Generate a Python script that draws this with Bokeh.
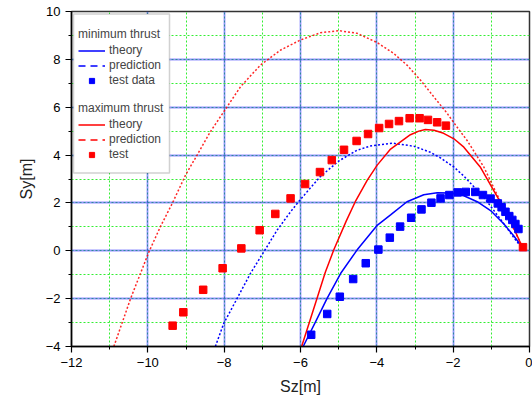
from bokeh.plotting import figure
from bokeh.models import Legend, LegendItem, SingleIntervalTicker, BoxAnnotation, Range1d
from bokeh.embed import file_html
from bokeh.resources import INLINE

# ---- data ----
blue_theory_x = [-5.93, -5.60, -5.30, -4.95, -4.52, -4.00, -3.64, -3.21, -2.77, -2.42, -2.07, -1.72, -1.37, -1.02, -0.67, -0.41, -0.22]
blue_theory_y = [-4.00, -2.95, -1.98, -0.95, 0.03, 1.05, 1.50, 2.05, 2.34, 2.43, 2.42, 2.30, 2.05, 1.68, 1.12, 0.62, 0.22]

blue_pred_x = [-8.23, -8.01, -7.66, -7.31, -6.96, -6.61, -6.26, -6.00, -5.48, -5.00, -4.52, -4.17, -3.60, -3.03,
               -2.60, -2.33, -1.98, -1.72, -1.20, -0.76, -0.41, -0.25]
blue_pred_y = [-4.00, -3.03, -1.99, -0.94, -0.04, 0.87, 1.63, 2.15, 3.10, 3.75, 4.20, 4.38, 4.50, 4.37,
               4.12, 3.88, 3.50, 3.12, 2.24, 1.32, 0.55, 0.22]

blue_test_x = [-5.72, -5.30, -4.97, -4.62, -4.29, -3.96, -3.66, -3.39, -3.10, -2.83, -2.57, -2.33, -2.10, -1.88,
               -1.67, -1.42, -1.22, -1.02, -0.83, -0.73, -0.63, -0.53, -0.45, -0.37, -0.29]
blue_test_y = [-3.51, -2.64, -1.92, -1.18, -0.52, 0.05, 0.55, 1.01, 1.38, 1.73, 2.01, 2.19, 2.33, 2.44,
               2.46, 2.46, 2.33, 2.18, 1.98, 1.82, 1.63, 1.45, 1.29, 1.12, 0.91]

red_theory_x = [-5.97, -5.75, -5.56, -5.35, -5.13, -4.80, -4.55, -4.25, -3.99, -3.64, -3.38, -3.12, -2.90, -2.73,
                -2.50, -2.25, -1.98, -1.72, -1.28, -0.94, -0.58, -0.19]
red_theory_y = [-4.00, -2.90, -1.95, -0.90, 0.03, 1.25, 2.10, 2.95, 3.58, 4.25, 4.55, 4.85, 5.00, 5.07,
                5.04, 4.91, 4.68, 4.33, 3.48, 2.52, 1.52, 0.17]

red_pred_x = [-10.89, -10.45, -9.97, -9.67, -9.36, -9.01, -8.71, -8.36, -8.01, -7.57, -7.05, -6.52, -6.00, -5.48,
              -5.00, -4.52, -3.99, -3.56, -3.21, -2.86, -2.51, -2.16, -1.94, -1.63, -1.20, -0.85, -0.50, -0.19]
red_pred_y = [-4.00, -1.99, -0.04, 1.01, 1.98, 3.17, 4.00, 4.98, 5.81, 6.86, 7.76, 8.39, 8.81, 9.11,
              9.20, 9.09, 8.70, 8.25, 7.76, 7.14, 6.44, 5.75, 5.26, 4.60, 3.51, 2.35, 1.20, 0.17]

red_test_x = [-9.35, -9.07, -8.55, -8.04, -7.55, -7.07, -6.66, -6.26, -5.88, -5.49, -5.18, -4.86, -4.53, -4.23,
              -3.94, -3.68, -3.42, -3.14, -2.88, -2.66, -2.42, -2.19, -0.17]
red_test_y = [-3.13, -2.57, -1.63, -0.73, 0.10, 0.86, 1.54, 2.19, 2.79, 3.29, 3.79, 4.22, 4.59, 4.88,
              5.13, 5.30, 5.42, 5.54, 5.54, 5.47, 5.37, 5.23, 0.15]

x_label = "Sz[m]"
y_label = "Sy[m]"
group_titles = ["minimum thrust", "maximum thrust"]
blue_labels = ["theory", "prediction", "test data"]
red_labels = ["theory", "prediction", "test"]

BLUE = "#0000ff"
RED = "#ff0000"
FONT = "Liberation Sans"

p = figure(width=532, height=404, x_range=Range1d(-12, 0), y_range=Range1d(-4, 10),
           output_backend="svg", toolbar_location=None,
           min_border_left=71, min_border_right=3, min_border_top=11, min_border_bottom=58)
p.background_fill_color = "white"
p.border_fill_color = "white"
p.outline_line_color = "#333333"
p.outline_line_width = 1.5

ticker = SingleIntervalTicker(interval=2, num_minor_ticks=2)
for ax in (p.xaxis[0], p.yaxis[0]):
    ax.ticker = ticker
    ax.axis_line_color = "black"
    ax.axis_line_width = 1.5
    ax.major_tick_line_color = "black"
    ax.major_tick_line_width = 1.2
    ax.minor_tick_line_color = "black"
    ax.major_tick_out = 6
    ax.major_tick_in = 0
    ax.minor_tick_out = 3
    ax.minor_tick_in = 0
    ax.major_label_text_font = FONT
    ax.major_label_text_font_size = "13px"
    ax.major_label_text_color = "black"
    ax.major_label_standoff = 5
    ax.axis_label_text_font = FONT
    ax.axis_label_text_font_size = "16px"
    ax.axis_label_text_font_style = "normal"
    ax.axis_label_text_color = "#222222"
    ax.axis_label_standoff = 8
p.xaxis.axis_label = x_label
p.yaxis.axis_label = y_label

for g in (p.xgrid[0], p.ygrid[0]):
    g.ticker = ticker
    g.grid_line_color = "#2a2aff"
    g.grid_line_alpha = 0.5
    g.grid_line_width = 1.8
    g.minor_grid_line_color = "#33ee33"
    g.minor_grid_line_dash = "2 2"
    g.minor_grid_line_width = 1

r_bp = p.line(blue_pred_x, blue_pred_y, color=BLUE, line_width=1.5, line_dash="2 2")
r_rp = p.line(red_pred_x, red_pred_y, color=RED, line_width=1.5, line_dash="2 2", line_alpha=0.85)
r_bt = p.line(blue_theory_x, blue_theory_y, color=BLUE, line_width=1.5)
r_rt = p.line(red_theory_x, red_theory_y, color=RED, line_width=1.5)
r_bs = p.scatter(blue_test_x, blue_test_y, marker="square", size=7.5, color=BLUE)
r_rs = p.scatter(red_test_x, red_test_y, marker="square", size=7.5, color=RED)

# legend-only proxies (single point, so nothing is drawn in the plot) for the long-dash symbol
lg_bp = p.line(blue_pred_x[-1:], blue_pred_y[-1:], color=BLUE, line_width=1.5, line_dash="7 5")
lg_rp = p.line(red_pred_x[-1:], red_pred_y[-1:], color=RED, line_width=1.5, line_dash="7 5")

box = BoxAnnotation(left=2, right=98, top=332.5, bottom=173.5,
                    left_units="screen", right_units="screen", top_units="screen", bottom_units="screen",
                    fill_color="white", fill_alpha=1.0, line_color="#666666", line_width=1.5)
p.add_layout(box)


def make_legend(title, labels, renderers, loc):
    leg = Legend(items=[LegendItem(label=l, renderers=[r]) for l, r in zip(labels, renderers)],
                 title=title, location=loc)
    leg.border_line_alpha = 0
    leg.background_fill_alpha = 0
    leg.padding = 0
    leg.margin = 0
    leg.spacing = 1
    leg.glyph_width = 27
    leg.glyph_height = 13
    leg.label_height = 13
    leg.label_standoff = 4
    leg.label_text_font = FONT
    leg.label_text_font_size = "12px"
    leg.title_text_font = FONT
    leg.title_text_font_size = "12px"
    leg.title_text_font_style = "normal"
    leg.title_standoff = 2
    return leg


p.add_layout(make_legend(group_titles[0], blue_labels, [r_bt, lg_bp, r_bs], (7, 259)))
p.add_layout(make_legend(group_titles[1], red_labels, [r_rt, lg_rp, r_rs], (7, 185)))

open("out.html", "w").write(file_html(p, INLINE))
